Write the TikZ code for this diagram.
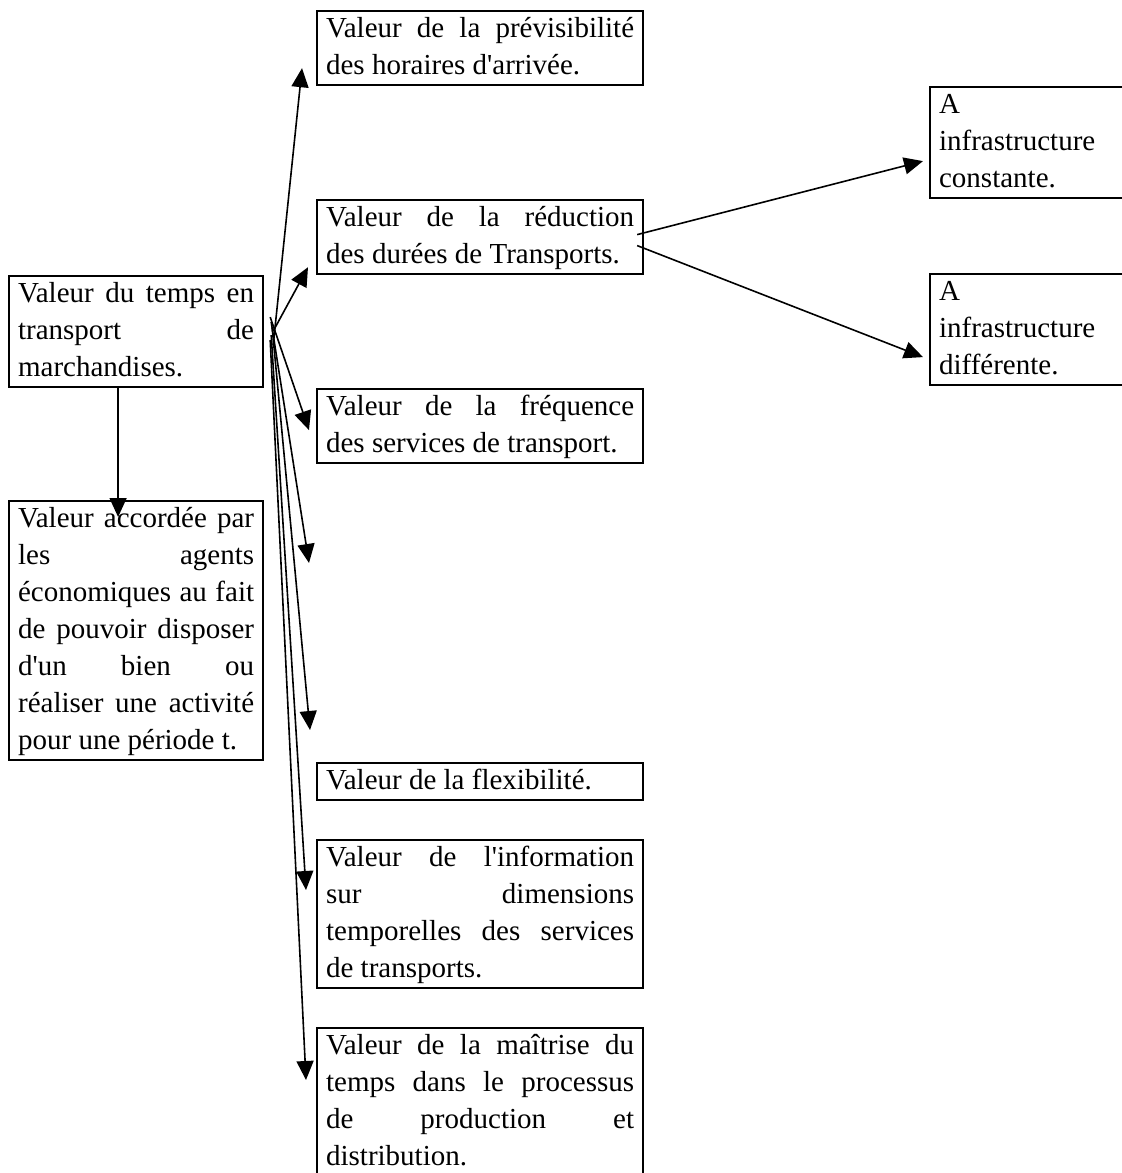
\documentclass[tikz,border=0pt]{standalone}
\usepackage{fontspec}
\setmainfont{Liberation Serif}
\usepackage{tikz}
\usetikzlibrary{arrows.meta,positioning}

\begin{document}
\begin{tikzpicture}[
    x=0.5pt, y=-0.5pt,
    every node/.style={
        draw, rectangle,
        line width=1.1pt,
        anchor=north west,
        inner xsep=4.5pt, inner ysep=0pt,
        font=\fontsize{14.5}{18.5}\selectfont,
        align=justify,
        execute at begin node=\strut,
        execute at end node=\strut
    },
    large/.style={text width=154pt},
    small/.style={text width=118pt},
    side/.style={text width=95pt, align=left},
    fleche/.style={-{Triangle[length=9.5pt,width=8.5pt]}, line width=0.8pt}
]
\useasboundingbox (0,0) rectangle (1122,1173);

\node[small] (temps) at (8,275) {Valeur du temps en\linebreak transport de\linebreak marchandises.};
\node[small] (agents) at (8,500) {Valeur accordée par\linebreak les agents\linebreak économiques au fait\linebreak de pouvoir disposer\linebreak d\textquotesingle un bien ou\linebreak réaliser une activité\linebreak pour une période t.};

\node[large] (prevision) at (316,10) {Valeur de la prévisibilité\linebreak des horaires d\textquotesingle arrivée.};
\node[large] (reduc) at (316,199) {Valeur de la réduction\linebreak des durées de Transports.};
\node[large] (freq) at (316,388) {Valeur de la fréquence\linebreak des services de transport.};
\node[large] (flex) at (316,762) {Valeur de la flexibilité.};
\node[large] (info) at (316,839) {Valeur de l\textquotesingle information\linebreak sur dimensions\linebreak temporelles des services\linebreak de transports.};
\node[large] (maitrise) at (316,1027) {Valeur de la maîtrise du\linebreak temps dans le processus\linebreak de production et\linebreak distribution.};

\node[side] (constante) at (929,86) {A\\ infrastructure\\ constante.};
\node[side] (differente) at (929,273) {A\\ infrastructure\\ différente.};

\coordinate (vide1) at (309,563);
\coordinate (vide2) at (310,730);

\draw[fleche] ([xshift=-9pt]temps.south) -- ([xshift=-9pt,yshift=-8.5pt]agents.north);

\draw[fleche] ([xshift=4.5pt,yshift=-6.75pt]temps.east) -- ([xshift=-7pt,yshift=9pt]prevision.south west);
\draw[fleche] ([xshift=4.5pt,yshift=0.25pt]temps.east) -- ([xshift=-4pt,yshift=4pt]reduc.south west);
\draw[fleche] ([xshift=3pt,yshift=7.25pt]temps.east) -- ([xshift=-3.5pt,yshift=-2pt]freq.west);
\draw[fleche] ([xshift=3.5pt,yshift=4.75pt]temps.east) -- (vide1);
\draw[fleche] ([xshift=4pt,yshift=1.75pt]temps.east) -- (vide2);
\draw[fleche] ([xshift=3.5pt,yshift=-1.75pt]temps.east) -- ([xshift=-5pt,yshift=-25.5pt]info.north west);
\draw[fleche] ([xshift=3pt,yshift=-4.25pt]temps.east) -- ([xshift=-5pt,yshift=-26.5pt]maitrise.north west);

\draw[fleche] ([xshift=-3.5pt,yshift=1.25pt]reduc.east) -- ([xshift=-3pt,yshift=-9.25pt]constante.west);
\draw[fleche] ([xshift=-3.5pt,yshift=-4.25pt]reduc.east) -- ([xshift=-3pt,yshift=-13.75pt]differente.west);
\end{tikzpicture}
\end{document}
